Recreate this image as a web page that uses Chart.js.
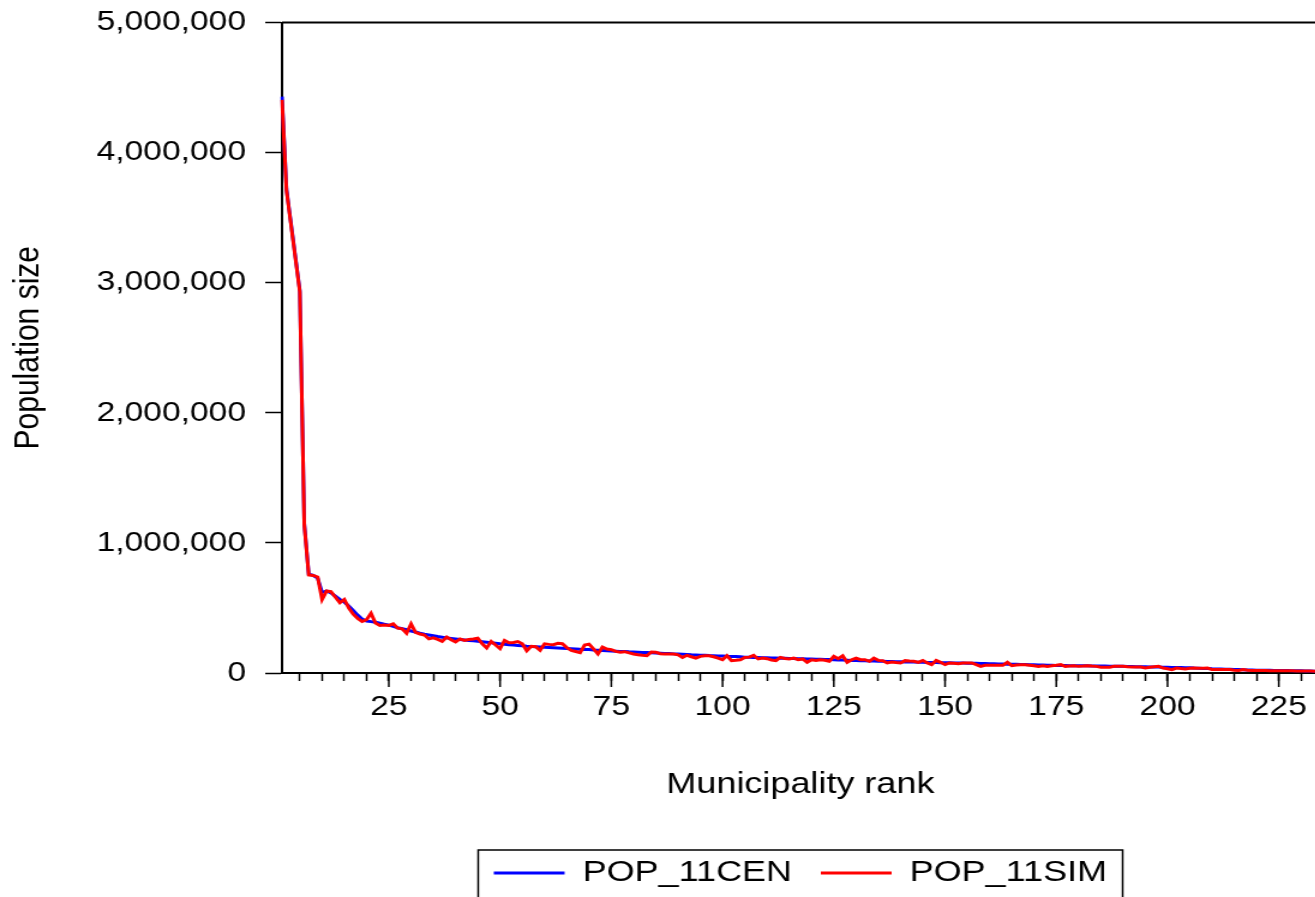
<!DOCTYPE html>
<html>
<head>
<meta charset="utf-8">
<script src="https://cdn.jsdelivr.net/npm/chart.js@4.4.1/dist/chart.umd.min.js"></script>
<style>
  html, body { margin: 0; padding: 0; background: #fff; overflow: hidden; }
  #chart { display: block; }
</style>
</head>
<body>
<!-- the source picture is stretched sideways, so the canvas is drawn narrow and widened by its inline style -->
<canvas id="chart" width="1100" height="898" style="width:1320px;height:898px"></canvas>
<script>
// population by municipality rank, in thousands
const popCen = [
    4430, 3720, 3460, 3200, 2940, 1150, 760, 750, 730, 620,
    630, 615, 590, 565, 545, 515, 480, 445, 415, 400,
    395, 390, 383, 375, 368, 358, 348, 340, 332, 323,
    315, 306, 298, 292, 286, 280, 275, 270, 266, 262,
    258, 254, 250, 247, 244, 240, 236, 232, 228, 224,
    221, 218, 215, 212, 209, 206, 204, 202, 200, 198,
    196, 194, 192, 190, 188, 186, 184, 182, 181, 180,
    177, 175, 172, 171, 169, 168, 166, 165, 163, 162,
    160, 158, 157, 155, 154, 152, 150, 149, 147, 146,
    144, 142, 140, 139, 137, 136, 134, 133, 131, 130,
    128, 127, 126, 124, 122, 121, 120, 119, 118, 117,
    116, 115, 114, 113, 112, 111, 110, 109, 108, 107,
    106, 105, 104, 103, 102, 100, 99, 98, 97, 96,
    95, 94, 93, 92, 91, 90, 89, 88, 87, 86,
    85, 84, 84, 83, 82, 81, 81, 80, 79, 79,
    78, 77, 77, 76, 75, 75, 74, 73, 73, 72,
    71, 70, 69, 68, 67, 67, 66, 65, 64, 63,
    62, 61, 60, 59, 58, 58, 57, 56, 56, 56,
    55, 55, 54, 54, 53, 53, 52, 52, 51, 51,
    50, 50, 49, 49, 48, 47, 46, 46, 45, 44,
    43, 42, 42, 41, 40, 38, 37, 35, 34, 32,
    31, 30, 29, 28, 27, 26, 25, 24, 23, 22,
    22, 21, 21, 20, 20, 19, 19, 18, 18, 17,
    16, 15, 14, 13
];

const popSim = [
    4405, 3710, 3450, 3190, 2930, 1140, 754, 750, 738, 565,
    630, 625, 582, 540, 565, 500, 452, 420, 396, 410,
    460, 385, 366, 368, 366, 378, 345, 340, 305, 378,
    312, 300, 292, 262, 270, 258, 243, 276, 255, 238,
    262, 251, 258, 262, 268, 225, 192, 243, 215, 187,
    250, 232, 235, 242, 225, 171, 205, 202, 174, 224,
    220, 218, 228, 225, 195, 174, 165, 156, 215, 222,
    185, 146, 200, 184, 179, 166, 160, 164, 155, 146,
    140, 136, 133, 161, 160, 148, 146, 146, 146, 140,
    120, 136, 125, 115, 128, 133, 133, 125, 115, 102,
    133, 95, 98, 102, 120, 122, 136, 108, 115, 110,
    100, 95, 120, 112, 108, 115, 102, 108, 82, 102,
    97, 102, 98, 90, 128, 110, 133, 82, 102, 115,
    102, 102, 90, 115, 97, 95, 77, 84, 80, 77,
    95, 92, 90, 82, 97, 77, 64, 97, 82, 64,
    77, 75, 72, 77, 77, 77, 64, 51, 59, 59,
    59, 59, 59, 82, 56, 62, 64, 64, 60, 56,
    51, 56, 51, 55, 59, 64, 51, 54, 56, 51,
    53, 56, 53, 51, 44, 44, 44, 51, 51, 51,
    48, 46, 46, 46, 38, 44, 48, 51, 38, 33,
    26, 38, 34, 31, 36, 38, 36, 37, 38, 26,
    26, 26, 26, 26, 22, 20, 26, 22, 20, 20,
    20, 19, 18, 18, 18, 18, 18, 17, 16, 15,
    15, 15, 14, 14
];

const yTickValues = [0, 1000000, 2000000, 3000000, 4000000, 5000000];
const xTickRanks = [25, 50, 75, 100, 125, 150, 175, 200, 225];
const ranks = popCen.map((_, i) => String(i + 1));

Chart.defaults.font.family = '"Liberation Sans", Arial, sans-serif';
Chart.defaults.color = '#000';

// frame round the plot, long ticks on labelled ranks, box round the legend
const frameAndTicks = {
    id: 'frameAndTicks',
    afterDraw(chart) {
        const {ctx, chartArea} = chart;
        const xScale = chart.scales.x;
        ctx.save();
        ctx.strokeStyle = '#000';
        ctx.lineWidth = 2;
        ctx.beginPath();
        ctx.moveTo(chartArea.left, chartArea.top);
        ctx.lineTo(chartArea.right, chartArea.top);
        ctx.lineTo(chartArea.right, chartArea.bottom);
        ctx.stroke();

        ctx.lineWidth = 1.5;
        xTickRanks.forEach(r => {
            const px = xScale.getPixelForTick(r - 1);
            ctx.beginPath();
            ctx.moveTo(px, chartArea.bottom);
            ctx.lineTo(px, chartArea.bottom + 14);
            ctx.stroke();
        });

        const boxes = chart.legend.legendHitBoxes;
        if (boxes && boxes.length) {
            const first = boxes[0];
            const last = boxes[boxes.length - 1];
            const left = first.left - 13;
            const right = last.left + last.width + 13;
            const top = chart.legend.top + 16;
            ctx.lineWidth = 1.5;
            ctx.strokeRect(left, top, right - left, chart.height + 10 - top);
        }
        ctx.restore();
    }
};

new Chart(document.getElementById('chart'), {
    type: 'line',
    data: {
        labels: ranks,
        datasets: [{
            label: 'POP_11CEN',
            data: popCen.map(v => v * 1000),
            borderColor: '#0000ff',
            backgroundColor: '#0000ff',
            borderWidth: 3,
            pointRadius: 0,
            tension: 0,
            order: 1
        }, {
            label: 'POP_11SIM',
            data: popSim.map(v => v * 1000),
            borderColor: '#ff0000',
            backgroundColor: '#ff0000',
            borderWidth: 3,
            pointRadius: 0,
            tension: 0,
            order: 0
        }]
    },
    options: {
        responsive: false,
        animation: false,
        devicePixelRatio: 1,
        layout: { padding: { top: 22.5, right: 1, bottom: 0, left: 0 } },
        plugins: {
            legend: {
                position: 'bottom',
                fullSize: false,
                labels: {
                    usePointStyle: true,
                    pointStyle: 'line',
                    pointStyleWidth: 59,
                    padding: 24,
                    color: '#000',
                    font: { size: 30 },
                    sort: (a, b) => a.datasetIndex - b.datasetIndex
                }
            },
            tooltip: { enabled: false }
        },
        scales: {
            x: {
                type: 'category',
                ticks: {
                    autoSkip: false,
                    maxRotation: 0,
                    minRotation: 0,
                    // padding 0 keeps chart.js from reserving room on the right;
                    // the tall line height puts the labels where they sit in the source
                    padding: 0,
                    font: { size: 28, lineHeight: '52px' },
                    color: '#000',
                    callback: (value, index) => xTickRanks.includes(index + 1) ? ranks[index] : ''
                },
                grid: {
                    drawOnChartArea: false,
                    tickLength: 8,
                    tickWidth: 1.5,
                    tickColor: c => (c.index + 1) % 5 === 0 ? '#000' : 'rgba(0,0,0,0)'
                },
                border: { color: '#000', width: 2 },
                title: {
                    display: true,
                    text: 'Municipality rank',
                    font: { size: 30 },
                    color: '#000',
                    padding: { top: 0, bottom: 31 }
                },
                afterFit: s => { s.height = 161; }
            },
            y: {
                min: 0,
                max: 5000000,
                afterBuildTicks: s => { s.ticks = yTickValues.map(v => ({ value: v })); },
                ticks: {
                    padding: 16,
                    font: { size: 28, lineHeight: 0.4 },
                    color: '#000',
                    callback: v => v.toLocaleString('en-US')
                },
                grid: {
                    drawOnChartArea: false,
                    tickLength: 14,
                    tickWidth: 1.5,
                    tickColor: '#000'
                },
                border: { color: '#000', width: 2 },
                title: {
                    display: true,
                    text: 'Population size',
                    font: { size: 30 },
                    color: '#000',
                    padding: { top: 6, bottom: 0 }
                },
                afterFit: s => { s.width = 235; }
            }
        }
    },
    plugins: [frameAndTicks]
});
</script>
</body>
</html>
